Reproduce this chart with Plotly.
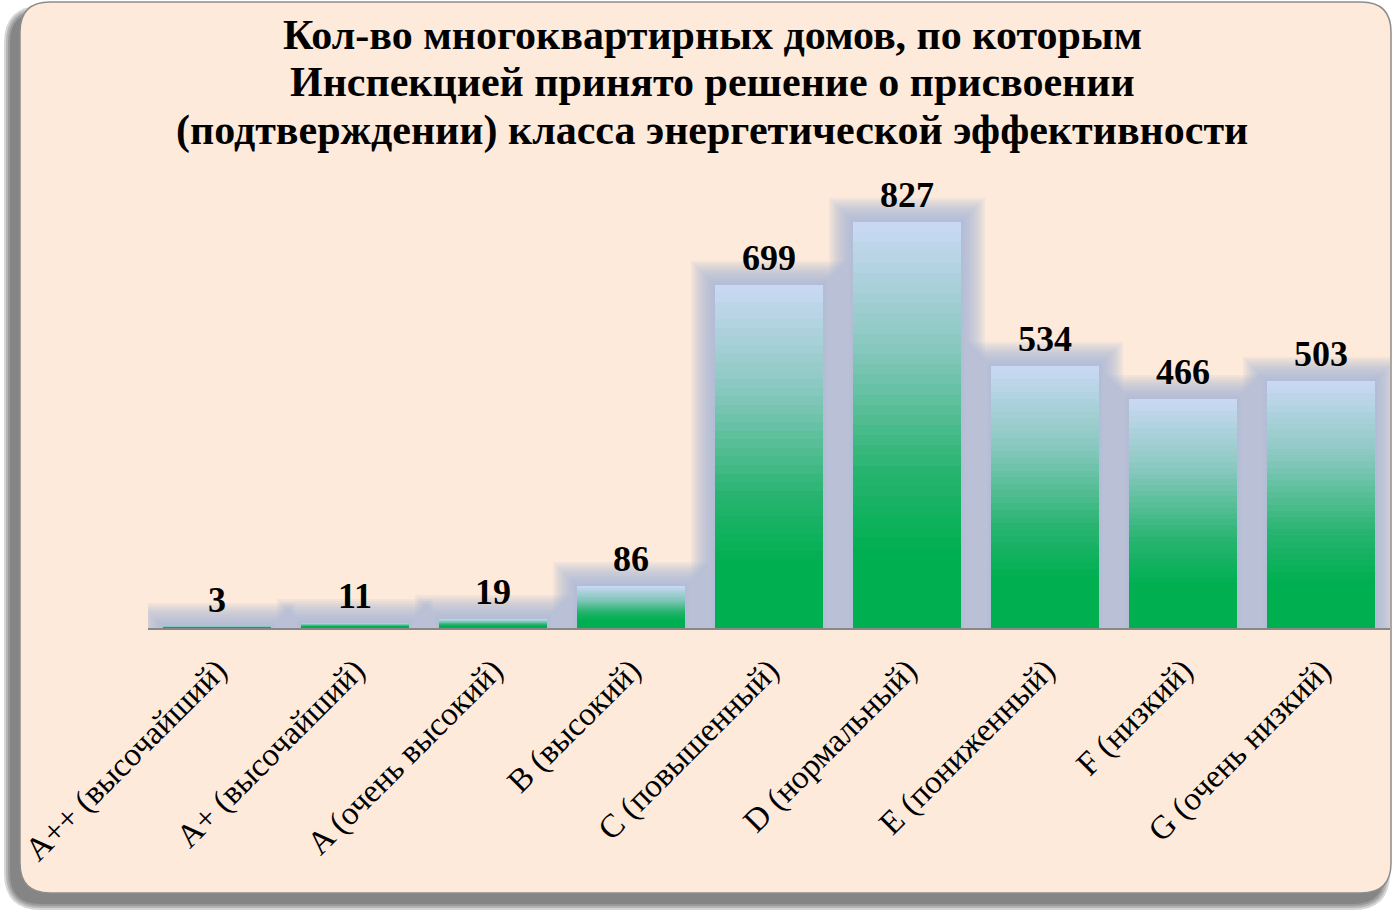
import plotly.graph_objects as go

categories = ["A++ (высочайший)", "A+ (высочайший)", "A (очень высокий)", "B (высокий)",
              "C (повышенный)", "D (нормальный)", "E (пониженный)", "F (низкий)", "G (очень низкий)"]
values = [3, 11, 19, 86, 699, 827, 534, 466, 503]
title_lines = ["Кол-во многоквартирных домов, по которым",
               "Инспекцией принято решение о присвоении",
               "(подтверждении) класса энергетической эффективности"]

W, H = 1398, 918
ML, MR, MT, MB = 148, 8, 170, 290
PW, PH = W - ML - MR, H - MT - MB
YMAX = 933
BAR_W = 0.78
SERIF = "Liberation Serif, Times New Roman, serif"


def pp(x, y):
    return (x - ML) / PW, (MT + PH - y) / PH


def rrect(x0, y0, x1, y1, r):
    def P(x, y):
        a, b = pp(x, y)
        return f"{a:.5f},{b:.5f}"
    return (f"M {P(x0 + r, y0)} L {P(x1 - r, y0)} Q {P(x1, y0)} {P(x1, y0 + r)} "
            f"L {P(x1, y1 - r)} Q {P(x1, y1)} {P(x1 - r, y1)} L {P(x0 + r, y1)} "
            f"Q {P(x0, y1)} {P(x0, y1 - r)} L {P(x0, y0 + r)} Q {P(x0, y0)} {P(x0 + r, y0)} Z")


shapes = []
# shadow (blurred, offset to lower-left)
for d in [7, 5, 3, 1]:
    shapes.append(dict(type="path", xref="paper", yref="paper", layer="below",
                       path=rrect(11 - d, 13 - d, 1383 + d, 903 + d, 30 + d),
                       fillcolor="rgba(50,50,50,0.2)", line=dict(width=0)))
shapes.append(dict(type="path", xref="paper", yref="paper", layer="below",
                   path=rrect(20, 2, 1391, 893, 30),
                   fillcolor="#FDEADB", line=dict(color="#8c8c8c", width=1.5)))

fig = go.Figure()

# soft glow behind bars
px_per_unit = PH / YMAX
slot = PW / len(categories)
for d in [24, 22, 20, 18, 16, 14, 12, 10, 8, 6, 4, 2]:
    fig.add_trace(go.Bar(
        x=categories, y=[v + d / px_per_unit for v in values],
        width=BAR_W + 2 * d / slot,
        marker=dict(color="rgba(165,180,214,0.12)", line=dict(width=0)),
        hoverinfo="skip", showlegend=False))

# gradient bars (overlaid layers)
stops = [(0.0, (200, 216, 242)), (0.3, (135, 200, 190)), (0.6, (40, 180, 112)),
         (0.8, (0, 176, 80)), (1.0, (0, 176, 80))]


def cmix(t):
    for (t0, c0), (t1, c1) in zip(stops[:-1], stops[1:]):
        if t0 <= t <= t1:
            f = (t - t0) / (t1 - t0) if t1 > t0 else 0
            return "rgb(%d,%d,%d)" % tuple(round(a + (b - a) * f) for a, b in zip(c0, c1))
    return "rgb(0,176,80)"


N = 40
for k in range(N):
    frac = 1 - k / N
    fig.add_trace(go.Bar(
        x=categories, y=[v * frac for v in values], width=BAR_W,
        marker=dict(color=cmix(k / N), line=dict(width=0)),
        hoverinfo="skip", showlegend=False))

annotations = []
for c, v in zip(categories, values):
    annotations.append(dict(x=c, y=v, xref="x", yref="y", text=f"<b>{v}</b>",
                            showarrow=False, yanchor="bottom", yshift=5,
                            font=dict(family=SERIF, size=36, color="black")))

for i, line in enumerate(title_lines):
    tx, ty = pp(712, 35 + 47.5 * i)
    annotations.append(dict(x=tx, y=ty, xref="paper", yref="paper",
                            text=f"<b>{line}</b>", showarrow=False,
                            xanchor="center", yanchor="middle",
                            font=dict(family=SERIF, size=42, color="black")))

fig.update_layout(
    width=W, height=H, margin=dict(l=ML, r=MR, t=MT, b=MB),
    paper_bgcolor="white", plot_bgcolor="rgba(0,0,0,0)",
    barmode="overlay", bargap=0, showlegend=False,
    shapes=shapes, annotations=annotations,
    xaxis=dict(type="category", range=[-0.5, len(categories) - 0.5], showline=True,
               linecolor="#888888", linewidth=1.5, showgrid=False, ticks="",
               tickangle=-45, ticklabelstandoff=8,
               tickfont=dict(family=SERIF, size=33, color="black")),
    yaxis=dict(range=[0, YMAX], visible=False, showgrid=False, zeroline=False),
)
fig.write_html("out.html")
